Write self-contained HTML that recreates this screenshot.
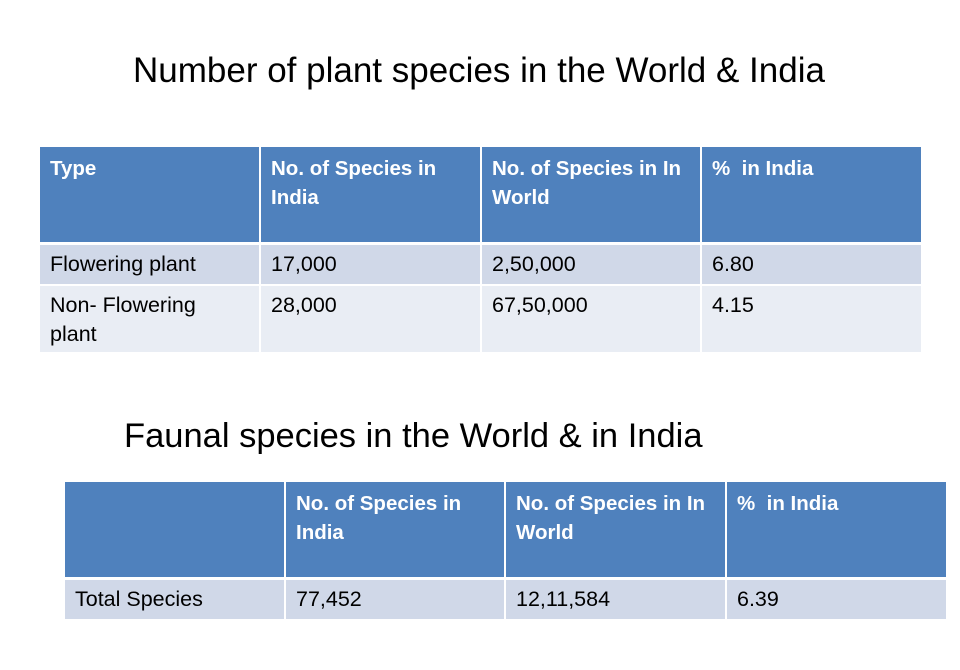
<!DOCTYPE html>
<html><head><meta charset="utf-8"><style>
body{margin:0;width:960px;height:670px;background:#fff;position:relative;overflow:hidden;font-family:"Liberation Sans",sans-serif;}
.t{position:absolute;font-size:35px;color:#000;white-space:nowrap;}
.c{position:absolute;box-sizing:border-box;padding:6px 10px;font-size:21.5px;line-height:29px;color:#000;}
.h{background:#4F81BD;color:#fff;font-weight:bold;font-size:20.5px;padding-top:7px;}
.r1{background:#D0D8E8;}
.r2{background:#E9EDF4;}
</style></head><body>
<div class="t" style="left:133px;top:51px;">Number of plant species in the World &amp; India</div>

<div class="c h" style="left:40px;top:147px;width:219px;height:95px;">Type</div>
<div class="c h" style="left:261px;top:147px;width:219px;height:95px;">No. of Species in India</div>
<div class="c h" style="left:482px;top:147px;width:218px;height:95px;">No. of Species in In World</div>
<div class="c h" style="left:702px;top:147px;width:219px;height:95px;">%&nbsp; in India</div>

<div class="c r1" style="left:40px;top:245px;width:219px;height:39px;padding-top:5px;">Flowering plant</div>
<div class="c r1" style="left:261px;top:245px;width:219px;height:39px;padding-top:5px;">17,000</div>
<div class="c r1" style="left:482px;top:245px;width:218px;height:39px;padding-top:5px;">2,50,000</div>
<div class="c r1" style="left:702px;top:245px;width:219px;height:39px;padding-top:5px;">6.80</div>

<div class="c r2" style="left:40px;top:286px;width:219px;height:66px;padding-top:5px;">Non- Flowering<br>plant</div>
<div class="c r2" style="left:261px;top:286px;width:219px;height:66px;padding-top:5px;">28,000</div>
<div class="c r2" style="left:482px;top:286px;width:218px;height:66px;padding-top:5px;">67,50,000</div>
<div class="c r2" style="left:702px;top:286px;width:219px;height:66px;padding-top:5px;">4.15</div>

<div class="t" style="left:124px;top:417px;font-size:34.5px;">Faunal species in the World &amp; in India</div>

<div class="c h" style="left:65px;top:482px;width:219px;height:95px;"></div>
<div class="c h" style="left:286px;top:482px;width:218px;height:95px;">No. of Species in India</div>
<div class="c h" style="left:506px;top:482px;width:219px;height:95px;">No. of Species in In World</div>
<div class="c h" style="left:727px;top:482px;width:219px;height:95px;">%&nbsp; in India</div>

<div class="c r1" style="left:65px;top:580px;width:219px;height:39px;padding-top:5px;">Total Species</div>
<div class="c r1" style="left:286px;top:580px;width:218px;height:39px;padding-top:5px;">77,452</div>
<div class="c r1" style="left:506px;top:580px;width:219px;height:39px;padding-top:5px;">12,11,584</div>
<div class="c r1" style="left:727px;top:580px;width:219px;height:39px;padding-top:5px;">6.39</div>
</body></html>
